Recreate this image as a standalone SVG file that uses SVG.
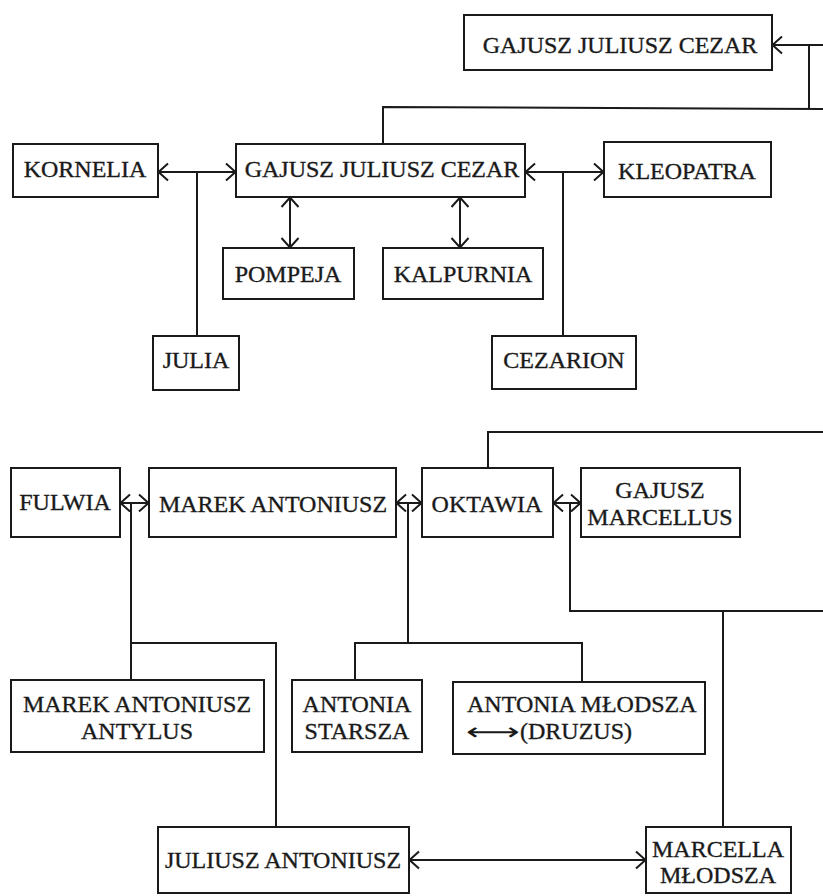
<svg xmlns="http://www.w3.org/2000/svg" width="823" height="896" viewBox="0 0 823 896">
<style>
.box{fill:#fff;stroke:#1a1a1a;stroke-width:2}
.ln{fill:none;stroke:#1a1a1a;stroke-width:2}
.t{font-family:"Liberation Serif","Times New Roman",serif;font-size:24px;fill:#1a1a1a;stroke:#1a1a1a;stroke-width:0.35;text-anchor:middle}
</style>
<defs>
<marker id="ah" viewBox="0 0 12 20" refX="11" refY="10" markerWidth="12" markerHeight="20" markerUnits="userSpaceOnUse" orient="auto-start-reverse">
<path d="M1,1.5 L10.5,10 L1,18.5" fill="none" stroke="#1a1a1a" stroke-width="2"/>
</marker>
</defs>
<rect width="823" height="896" fill="#fff"/>
<g id="connectors">
<path class="ln" d="M823,45 L772,45" marker-end="url(#ah)"/>
<path class="ln" d="M809,45 L809,108"/>
<path class="ln" d="M383,144 L383,107 L823,109"/>
<path class="ln" d="M158,172 L236,172" marker-start="url(#ah)" marker-end="url(#ah)"/>
<path class="ln" d="M197,172 L197,336"/>
<path class="ln" d="M290,197 L290,248" marker-start="url(#ah)" marker-end="url(#ah)"/>
<path class="ln" d="M460,197 L460,248" marker-start="url(#ah)" marker-end="url(#ah)"/>
<path class="ln" d="M525,172 L604,172" marker-start="url(#ah)" marker-end="url(#ah)"/>
<path class="ln" d="M563,172 L563,336"/>
<path class="ln" d="M120,503 L149,503" marker-start="url(#ah)" marker-end="url(#ah)"/>
<path class="ln" d="M131,503 L131,643 L276,643 L276,827"/>
<path class="ln" d="M131,643 L131,680"/>
<path class="ln" d="M396,503 L422,503" marker-start="url(#ah)" marker-end="url(#ah)"/>
<path class="ln" d="M408,503 L408,643"/>
<path class="ln" d="M355,680 L355,643 L582,643 L582,682"/>
<path class="ln" d="M488,468 L488,432 L823,432"/>
<path class="ln" d="M553,503 L581,503" marker-start="url(#ah)" marker-end="url(#ah)"/>
<path class="ln" d="M570,503 L570,611 L823,611"/>
<path class="ln" d="M723,611 L723,827"/>
<path class="ln" d="M409,860 L646,860" marker-start="url(#ah)" marker-end="url(#ah)"/>
</g>
<g id="cezar-top"><rect class="box" x="464" y="15" width="308" height="55"/><text class="t" x="620" y="53">GAJUSZ JULIUSZ CEZAR</text></g>
<g id="cezar"><rect class="box" x="236" y="144" width="289" height="53"/><text class="t" x="382" y="177">GAJUSZ JULIUSZ CEZAR</text></g>
<g id="kornelia"><rect class="box" x="13" y="144" width="145" height="53"/><text class="t" x="85" y="177">KORNELIA</text></g>
<g id="kleopatra"><rect class="box" x="604" y="142" width="167" height="55"/><text class="t" x="687" y="179">KLEOPATRA</text></g>
<g id="pompeja"><rect class="box" x="223" y="248" width="131" height="51"/><text class="t" x="288" y="282">POMPEJA</text></g>
<g id="kalpurnia"><rect class="box" x="383" y="248" width="160" height="51"/><text class="t" x="463" y="282">KALPURNIA</text></g>
<g id="julia"><rect class="box" x="153" y="336" width="86" height="54"/><text class="t" x="196" y="368">JULIA</text></g>
<g id="cezarion"><rect class="box" x="492" y="336" width="144" height="53"/><text class="t" x="564" y="368">CEZARION</text></g>
<g id="fulwia"><rect class="box" x="11" y="468" width="109" height="69"/><text class="t" x="65" y="510">FULWIA</text></g>
<g id="marek"><rect class="box" x="149" y="468" width="247" height="69"/><text class="t" x="273" y="512">MAREK ANTONIUSZ</text></g>
<g id="oktawia"><rect class="box" x="422" y="468" width="131" height="69"/><text class="t" x="487" y="512">OKTAWIA</text></g>
<g id="marcellus"><rect class="box" x="581" y="468" width="159" height="69"/><text class="t" x="660" y="498">GAJUSZ</text><text class="t" x="660" y="525">MARCELLUS</text></g>
<g id="antylus"><rect class="box" x="11" y="680" width="253" height="72"/><text class="t" x="137" y="712">MAREK ANTONIUSZ</text><text class="t" x="137" y="739">ANTYLUS</text></g>
<g id="starsza"><rect class="box" x="292" y="680" width="130" height="72"/><text class="t" x="357" y="712">ANTONIA</text><text class="t" x="357" y="739">STARSZA</text></g>
<g id="mlodsza"><rect class="box" x="453" y="682" width="252" height="72"/><text class="t" x="467" y="712" style="text-anchor:start">ANTONIA MŁODSZA</text><text class="t" x="466" y="740" style="text-anchor:start;font-family:'DejaVu Sans',sans-serif;stroke-width:0" textLength="54" lengthAdjust="spacingAndGlyphs">⟷</text><text class="t" x="520" y="739" style="text-anchor:start">(DRUZUS)</text></g>
<g id="juliusz"><rect class="box" x="158" y="827" width="251" height="66"/><text class="t" x="283" y="868">JULIUSZ ANTONIUSZ</text></g>
<g id="marcella"><rect class="box" x="646" y="827" width="145" height="66"/><text class="t" x="718" y="857">MARCELLA</text><text class="t" x="718" y="883">MŁODSZA</text></g>
</svg>
